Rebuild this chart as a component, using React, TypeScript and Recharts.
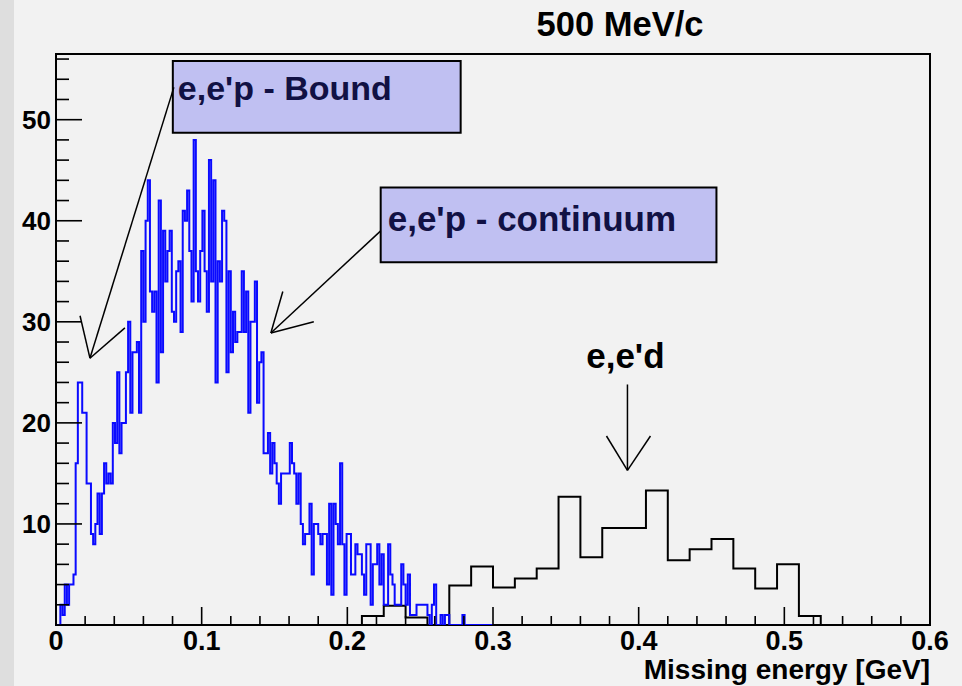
import { LineChart, Line, XAxis, YAxis, ReferenceArea, ReferenceLine, ReferenceDot } from "recharts";

// e,e'p missing energy spectrum, 200 bins of 1.5 MeV from 0 to 0.3 GeV
const blueBinWidth = 0.0015;
const blueCounts = [
  0, 0, 2, 1, 4, 2, 4, 4, 5, 16,
  24, 24, 21, 21, 14, 14, 9, 8, 10, 13,
  9, 13, 16, 14, 15, 14, 20, 18, 25, 17,
  20, 20, 25, 30, 21, 27, 27, 28, 21, 37,
  30, 40, 44, 33, 31, 33, 24, 42, 27, 39,
  34, 37, 39, 31, 30, 35, 36, 29, 41, 40,
  43, 37, 32, 48, 35, 32, 37, 41, 35, 31,
  46, 34, 44, 24, 36, 34, 41, 40, 25, 35,
  27, 31, 28, 29, 29, 35, 29, 33, 21, 30,
  30, 34, 22, 26, 27, 17, 17, 19, 15, 18,
  16, 14, 12, 15, 15, 15, 15, 18, 16, 15,
  12, 15, 10, 8, 9, 9, 12, 5, 10, 10,
  9, 8, 9, 9, 4, 12, 3, 12, 10, 8,
  16, 8, 3, 9, 9, 5, 5, 8, 7, 7,
  5, 3, 8, 8, 2, 6, 6, 8, 4, 7,
  2, 2, 8, 5, 4, 2, 2, 2, 6, 4,
  2, 5, 1, 1, 1, 2, 2, 2, 2, 2,
  1, 0, 2, 4, 0, 0, 1, 0, 1, 1,
  0, 0, 0, 0, 0, 0, 1, 0, 0, 0,
  0, 0, 0, 0, 0, 0, 0, 0, 0, 0,
];

// e,e'd contribution, 40 bins of 15 MeV from 0 to 0.6 GeV
const blackBinWidth = 0.015;
const blackCounts = [
  0, 0, 0, 0, 0, 0, 0, 0, 0, 0,
  0, 0, 0, 0, 0.9, 1.9, 0.75, 0, 3.9, 5.8,
  3.7, 4.6, 5.6, 12.7, 6.7, 9.6, 9.6, 13.3, 6.4, 7.5,
  8.5, 5.6, 3.6, 6.0, 0.9, 0, 0, 0, 0, 0,
];

const xTicks = [
  0, 0.02, 0.04, 0.06, 0.08, 0.1, 0.12, 0.14, 0.16, 0.18,
  0.2, 0.22, 0.24, 0.26, 0.28, 0.3, 0.32, 0.34, 0.36, 0.38,
  0.4, 0.42, 0.44, 0.46, 0.48, 0.5, 0.52, 0.54, 0.56, 0.58, 0.6,
];
const xLabels = ["0", "0.1", "0.2", "0.3", "0.4", "0.5", "0.6"];
const yTicks = [
  0, 2, 4, 6, 8, 10, 12, 14, 16, 18, 20, 22, 24, 26, 28,
  30, 32, 34, 36, 38, 40, 42, 44, 46, 48, 50, 52, 54, 56,
];
const yLabels = ["10", "20", "30", "40", "50"];

const Y_MAX = 56.5;
const FONT = "'Liberation Sans', Arial, Helvetica, sans-serif";

// histogram outline as a step line through the bin edges
function toSteps(counts: number[], width: number) {
  const pts = [{ x: 0, y: 0 }];
  counts.forEach((c, i) => pts.push({ x: i * width, y: c }));
  pts.push({ x: counts.length * width, y: 0 });
  return pts;
}

const blueSteps = toSteps(blueCounts, blueBinWidth);
const blackSteps = toSteps(blackCounts, blackBinWidth);

// annotation arrows (data coordinates)
const arrows = [
  // e,e'p - Bound
  [[0.0809, 53.2], [0.0233, 26.4]],
  [[0.0233, 26.4], [0.0165, 30.6]],
  [[0.0233, 26.4], [0.0473, 29.4]],
  // e,e'p - continuum
  [[0.2229, 39.0], [0.1475, 28.9]],
  [[0.1475, 28.9], [0.1557, 33.0]],
  [[0.1475, 28.9], [0.177, 30.0]],
  // e,e'd
  [[0.3923, 23.8], [0.3923, 15.3]],
  [[0.3923, 15.3], [0.3779, 18.7]],
  [[0.3923, 15.3], [0.4081, 18.7]],
];

const boxes = [
  { text: "e,e'p - Bound", x1: 0.0802, x2: 0.2778, y1: 48.7, y2: 55.8, dx: 5, dy: 39, size: 34 },
  { text: "e,e'p - continuum", x1: 0.2229, x2: 0.4534, y1: 35.9, y2: 43.3, dx: 7, dy: 44, size: 35 },
];

const fmtX = (v: number) => Number(v.toFixed(2)).toString();

function XTick({ x, y, payload }: any) {
  const label = fmtX(payload.value);
  const major = xLabels.includes(label);
  return (
    <g>
      <line x1={x} x2={x} y1={y} y2={y - (major ? 18 : 9)} stroke="#000" strokeWidth={1.6} />
      {major && (
        <text x={x} y={y + 25} textAnchor="middle" fontFamily={FONT} fontWeight="bold" fontSize={27} fill="#000">
          {label}
        </text>
      )}
    </g>
  );
}

function YTick({ x, y, payload }: any) {
  const label = String(payload.value);
  const major = yLabels.includes(label);
  return (
    <g>
      <line x1={x} x2={x + (major ? 26 : 13)} y1={y} y2={y} stroke="#000" strokeWidth={1.6} />
      {major && (
        <text x={x - 5} y={y + 9} textAnchor="end" fontFamily={FONT} fontWeight="bold" fontSize={26} fill="#000">
          {label}
        </text>
      )}
    </g>
  );
}

export default function App() {
  return (
    <div style={{ position: "absolute", left: 0, top: 0, width: 962, height: 686, background: "#f2f2f2" }}>
      <div style={{ position: "absolute", left: 0, top: 0, width: 14, height: 686, background: "#dedede" }} />
      <svg width={962} height={60} style={{ position: "absolute", left: 0, top: 0 }}>
        <text x={620} y={36} textAnchor="middle" fontFamily={FONT} fontWeight="bold" fontSize={34.5} fill="#000">
          500 MeV/c
        </text>
      </svg>
      <div style={{ position: "absolute", left: 0, top: 0 }}>
        <LineChart width={962} height={686} margin={{ top: 54, right: 32, bottom: 0, left: 0 }}>
          <XAxis
            type="number"
            dataKey="x"
            domain={[0, 0.6]}
            ticks={xTicks}
            interval={0}
            allowDataOverflow
            height={61}
            tickSize={0}
            tickMargin={0}
            axisLine={false}
            tickLine={false}
            tick={<XTick />}
            label={{
              content: ({ viewBox }: any) => (
                <text
                  x={viewBox.x + viewBox.width}
                  y={viewBox.y + 54}
                  textAnchor="end"
                  fontFamily={FONT}
                  fontWeight="bold"
                  fontSize={28}
                  fill="#000"
                >
                  Missing energy [GeV]
                </text>
              ),
            }}
          />
          <YAxis
            type="number"
            domain={[0, Y_MAX]}
            ticks={yTicks}
            interval={0}
            allowDataOverflow
            width={56}
            tickSize={0}
            tickMargin={0}
            axisLine={false}
            tickLine={false}
            tick={<YTick />}
          />
          <ReferenceArea x1={0} x2={0.6} y1={0} y2={Y_MAX} fill="none" stroke="#000" strokeWidth={2} />
          <Line
            data={blackSteps}
            dataKey="y"
            type="stepAfter"
            stroke="#000"
            strokeWidth={2}
            dot={false}
            activeDot={false}
            isAnimationActive={false}
          />
          <Line
            data={blueSteps}
            dataKey="y"
            type="stepAfter"
            stroke="#0a0aff"
            strokeWidth={2}
            dot={false}
            activeDot={false}
            isAnimationActive={false}
          />
          {boxes.map((b) => (
            <ReferenceArea
              key={b.text}
              x1={b.x1}
              x2={b.x2}
              y1={b.y1}
              y2={b.y2}
              fill="#c0c0f2"
              fillOpacity={1}
              stroke="#000"
              strokeWidth={2}
              label={{
                content: ({ viewBox }: any) => (
                  <text
                    x={viewBox.x + b.dx}
                    y={viewBox.y + b.dy}
                    fontFamily={FONT}
                    fontWeight="bold"
                    fontSize={b.size}
                    fill="#111144"
                  >
                    {b.text}
                  </text>
                ),
              }}
            />
          ))}
          {arrows.map((a, i) => (
            <ReferenceLine
              key={i}
              segment={[
                { x: a[0][0], y: a[0][1] },
                { x: a[1][0], y: a[1][1] },
              ]}
              stroke="#000"
              strokeWidth={1.5}
            />
          ))}
          <ReferenceDot
            x={0.3909}
            y={25.45}
            r={1}
            fill="none"
            stroke="none"
            label={{
              content: ({ viewBox }: any) => (
                <text
                  x={viewBox.x + viewBox.width / 2}
                  y={viewBox.y + viewBox.height / 2}
                  textAnchor="middle"
                  fontFamily={FONT}
                  fontWeight="bold"
                  fontSize={35}
                  fill="#000"
                >
                  e,e'd
                </text>
              ),
            }}
          />
        </LineChart>
      </div>
    </div>
  );
}
